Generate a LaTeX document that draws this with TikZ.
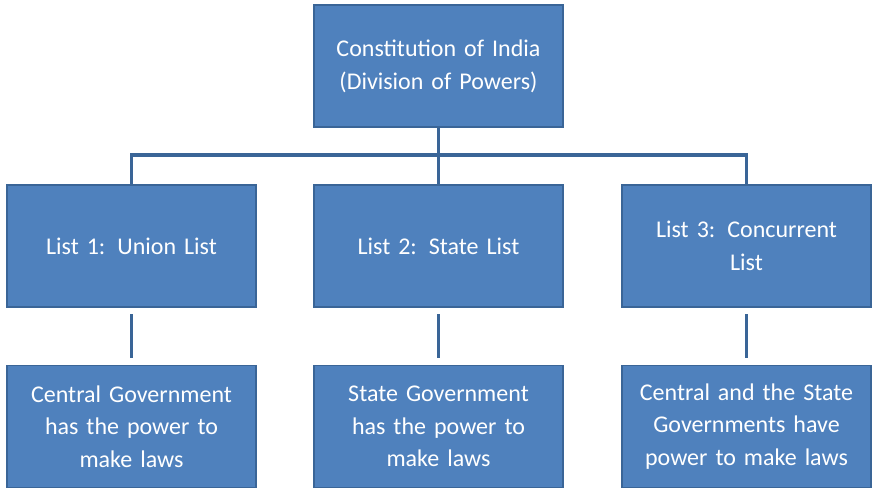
\documentclass[tikz,border=0pt]{standalone}
\usepackage{fontspec}
\setmainfont{Carlito}
\definecolor{boxblue}{HTML}{4F81BD}
\definecolor{lineblue}{HTML}{3A6597}
\tikzset{
  listbox/.style={draw=lineblue, line width=1pt, fill=boxblue, text=white,
    minimum width=186.75pt, minimum height=91.5pt, text width=180pt,
    align=center, inner sep=2pt, font=\fontsize{18}{24.5}\selectfont},
  link/.style={draw=lineblue, line width=2.5pt}
}
\begin{document}
\begin{tikzpicture}[x=0.75pt,y=-0.75pt]
  \useasboundingbox (0,0) rectangle (879,492);
%
  \node[listbox] (top) at (438.5,66) {Constitution of India\\(Division of Powers)};
%
  \node[listbox] (union) at (131.5,246) {List 1: Union List};
  \node[listbox] (state) at (438.5,246) {List 2: State List};
  \node[listbox] (conc) at (746.5,246) {List 3: Concurrent\\List};
%
  \node[listbox] (centralgov) at (131.5,426.5) {Central Government\\has the power to\\make laws};
  \node[listbox] (stategov) at (438.5,426.5) {State Government\\has the power to\\make laws};
  \node[listbox] (bothgov) at (746.5,426.5) {Central and the State\\Governments have\\power to make laws};
%
  \coordinate (mid) at (438.5,155);
  \draw[link] (top.south) -- (mid);
  \draw[link] (union.north) |- (mid) -| (conc.north);
  \draw[link] (mid) -- (state.north);
%
  \foreach \a/\b in {union/centralgov,state/stategov,conc/bothgov}
    \draw[link] ([yshift=-5pt]\a.south) -- ([yshift=5pt]\b.north);
\end{tikzpicture}
\end{document}
